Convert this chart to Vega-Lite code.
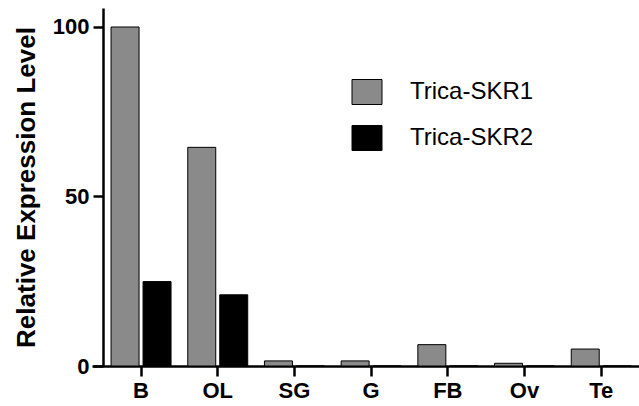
{
  "$schema": "https://vega.github.io/schema/vega-lite/v6.json",
  "width": 547,
  "height": 358,
  "autosize": {"type": "none"},
  "padding": {"left": 92, "top": 8, "right": 0, "bottom": 40},
  "background": "white",
  "config": {"view": {"stroke": null}, "font": "Liberation Sans"},
  "data": {
    "values": [
      {"tissue": "B", "gene": "Trica-SKR1", "value": 100},
      {"tissue": "B", "gene": "Trica-SKR2", "value": 24.9},
      {"tissue": "OL", "gene": "Trica-SKR1", "value": 64.5},
      {"tissue": "OL", "gene": "Trica-SKR2", "value": 21.0},
      {"tissue": "SG", "gene": "Trica-SKR1", "value": 1.5},
      {"tissue": "SG", "gene": "Trica-SKR2", "value": 0},
      {"tissue": "G", "gene": "Trica-SKR1", "value": 1.5},
      {"tissue": "G", "gene": "Trica-SKR2", "value": 0},
      {"tissue": "FB", "gene": "Trica-SKR1", "value": 6.3},
      {"tissue": "FB", "gene": "Trica-SKR2", "value": 0},
      {"tissue": "Ov", "gene": "Trica-SKR1", "value": 0.8},
      {"tissue": "Ov", "gene": "Trica-SKR2", "value": 0},
      {"tissue": "Te", "gene": "Trica-SKR1", "value": 5.0},
      {"tissue": "Te", "gene": "Trica-SKR2", "value": 0}
    ]
  },
  "mark": {"type": "bar", "stroke": "black", "strokeWidth": 1},
  "encoding": {
    "x": {
      "field": "tissue",
      "type": "nominal",
      "sort": ["B", "OL", "SG", "G", "FB", "Ov", "Te"],
      "scale": {"paddingInner": 0.218, "paddingOuter": 0.175, "align": 0.71},
      "axis": {
        "title": null,
        "labelAngle": 0,
        "labelFontSize": 22,
        "labelFontWeight": "bold",
        "labelColor": "black",
        "labelPadding": 4,
        "domainColor": "black",
        "domainWidth": 2.5,
        "tickColor": "black",
        "tickWidth": 2.5,
        "tickSize": 10,
        "grid": false
      }
    },
    "xOffset": {
      "field": "gene",
      "type": "nominal",
      "scale": {"paddingInner": 0.125, "paddingOuter": 0}
    },
    "y": {
      "field": "value",
      "type": "quantitative",
      "scale": {"domain": [0, 105.6], "nice": false},
      "axis": {
        "title": "Relative Expression Level",
        "titleFontSize": 26,
        "titleFontWeight": "bold",
        "titleColor": "black",
        "titlePadding": 13,
        "values": [0, 50, 100],
        "offset": -11,
        "labelFontSize": 22,
        "labelFontWeight": "bold",
        "labelColor": "black",
        "labelPadding": 4,
        "domainColor": "black",
        "domainWidth": 2.5,
        "tickColor": "black",
        "tickWidth": 2.5,
        "tickSize": 10,
        "grid": false
      }
    },
    "fill": {
      "field": "gene",
      "type": "nominal",
      "scale": {"domain": ["Trica-SKR1", "Trica-SKR2"], "range": ["#8a8a8a", "#000000"]},
      "legend": {
        "title": null,
        "orient": "none",
        "legendX": 262,
        "legendY": 71,
        "padding": 0,
        "labelFontSize": 24,
        "labelColor": "black",
        "labelOffset": 30,
        "rowPadding": 16,
        "symbolType": "M-1.2,-1H1.2V1H-1.2Z",
        "symbolSize": 625,
        "symbolStrokeColor": "black",
        "symbolStrokeWidth": 1,
        "symbolOpacity": 1
      }
    }
  }
}
